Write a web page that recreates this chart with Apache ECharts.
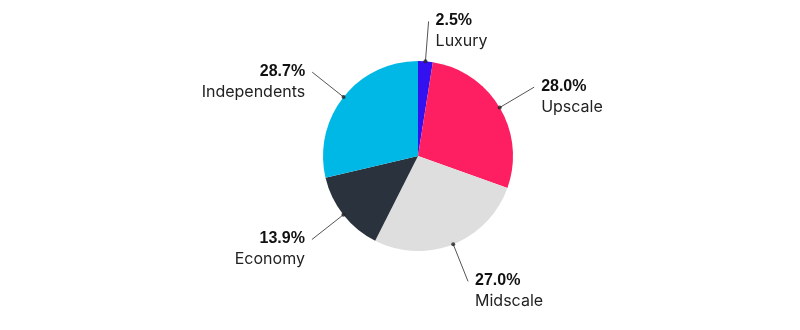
<!DOCTYPE html>
<html><head><meta charset="utf-8">
<script src="https://cdn.jsdelivr.net/npm/echarts@6/dist/echarts.min.js"></script>
<style>html,body{margin:0;padding:0;background:#fff}#c{width:800px;height:330px}</style>
</head><body><div id="c"></div>
<script>
var categories = ['Luxury', 'Upscale', 'Midscale', 'Economy', 'Independents'];
var values = [2.5, 28.0, 27.0, 13.9, 28.7];
var colors = ['#3310f0', '#fd1f62', '#dedede', '#29323d', '#00b8e5'];

var total = values.reduce(function (a, b) { return a + b; }, 0);
var mids = [];
var acc = 0;
values.forEach(function (v) { mids.push([1, acc + v / 2]); acc += v; });

var CX = 418, CY = 156, R = 95;
var chart = echarts.init(document.getElementById('c'), null, {renderer: 'canvas'});
chart.setOption({
  backgroundColor: '#fff',
  animation: false,
  polar: {center: [CX, CY], radius: R},
  angleAxis: {type: 'value', min: 0, max: total, startAngle: 90, clockwise: true, show: false},
  radiusAxis: {type: 'value', min: 0, max: 1, show: false},
  series: [{
    type: 'pie',
    center: [CX, CY],
    radius: R,
    startAngle: 90,
    clockwise: true,
    avoidLabelOverlap: false,
    itemStyle: {borderWidth: 0},
    label: {
      show: true,
      position: 'outside',
      distanceToLabelLine: 7,
      padding: [20, 0, 0, 0],
      formatter: function (p) {
        return '{p|' + p.value.toFixed(1) + '%}\n{n|' + p.name + '}';
      },
      rich: {
        p: {fontFamily: 'Liberation Sans', fontSize: 16, fontWeight: 'bold', color: '#111', lineHeight: 20},
        n: {fontFamily: 'Inter', fontSize: 16, color: '#222', lineHeight: 21}
      }
    },
    labelLine: {show: true, length: 40, length2: 0, lineStyle: {color: '#555', width: 1}},
    emphasis: {disabled: true},
    data: categories.map(function (c, i) {
      return {name: c, value: values[i], itemStyle: {color: colors[i]}};
    })
  }, {
    type: 'scatter',
    coordinateSystem: 'polar',
    symbolSize: 4,
    itemStyle: {color: '#222'},
    silent: true,
    z: 5,
    data: mids
  }]
});
</script></body></html>
